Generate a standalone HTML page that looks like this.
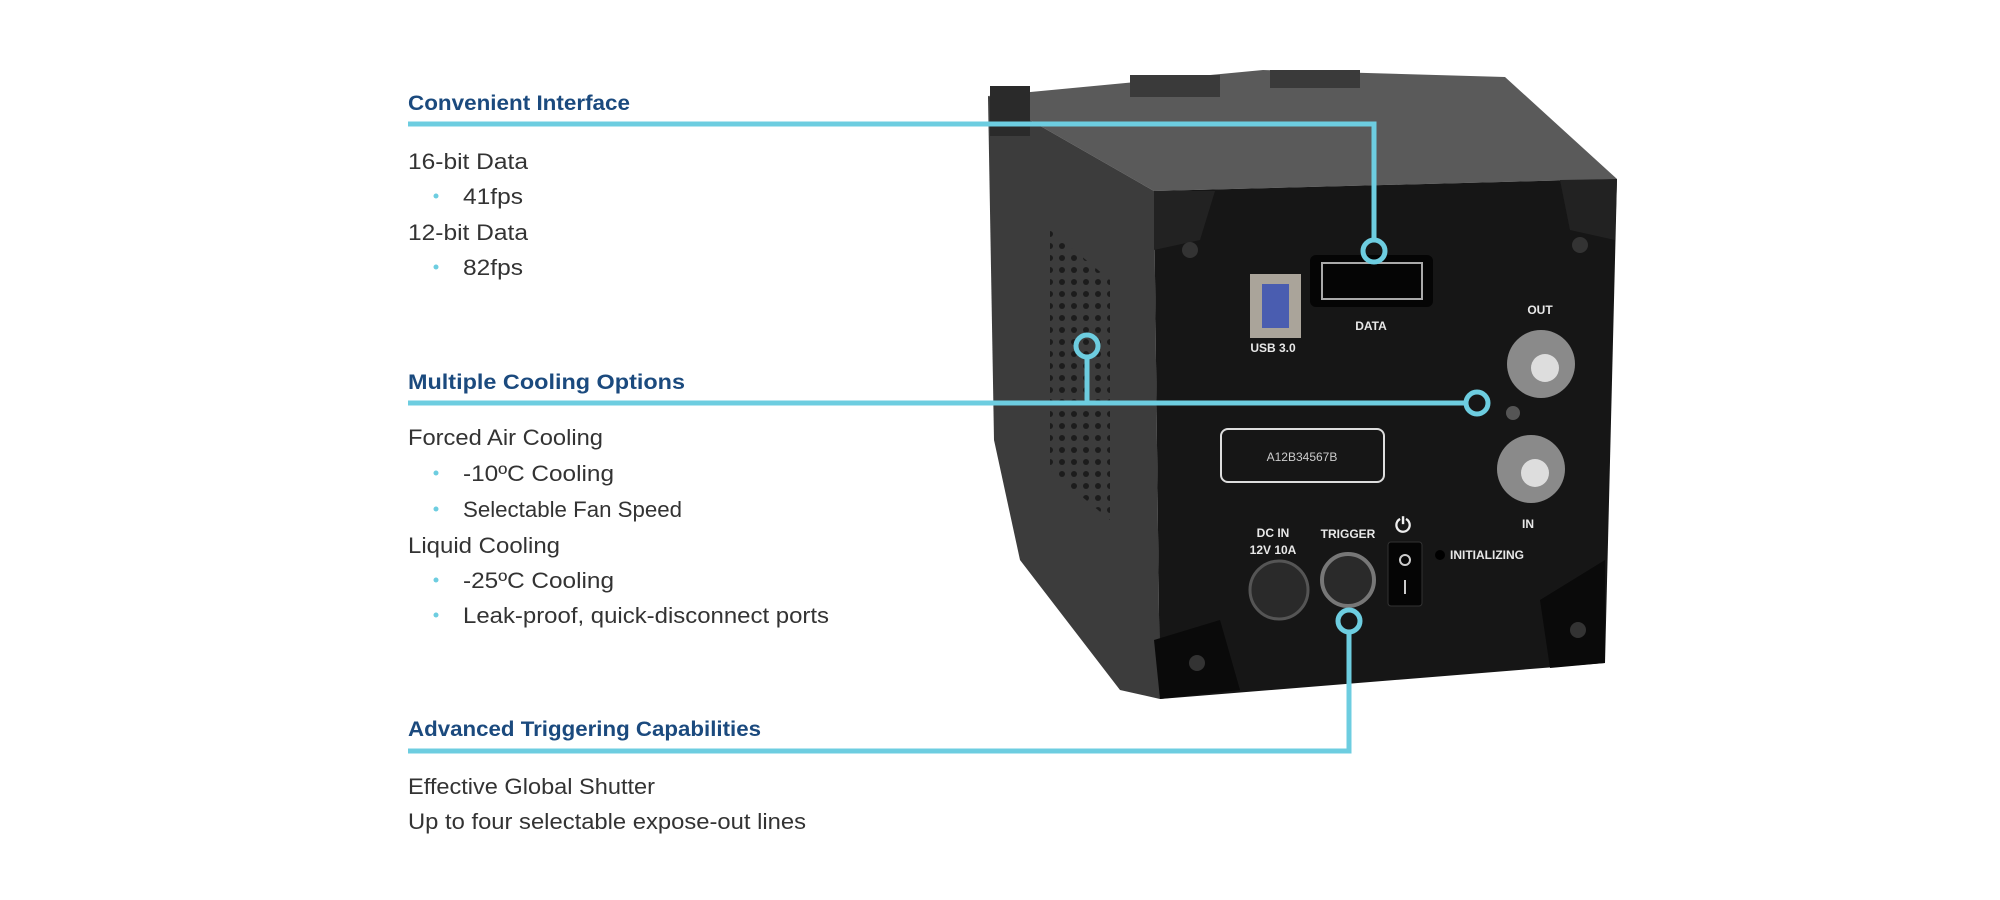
<!DOCTYPE html>
<html><head><meta charset="utf-8"><style>
html,body{margin:0;padding:0;background:#fff;}
svg{display:block}
text{font-family:"Liberation Sans",sans-serif;}
.t{font-weight:bold;font-size:21px;fill:#1b4a7e}
.b{font-size:22px;fill:#333}
.w{fill:#e8e8e8;font-weight:bold;font-size:12px}
</style></head><body>
<svg width="2000" height="900" viewBox="0 0 2000 900" xmlns="http://www.w3.org/2000/svg">
<defs>
<pattern id="vent" width="12" height="12" patternUnits="userSpaceOnUse"><circle cx="6" cy="6" r="3" fill="#1c1c1c"/></pattern>
</defs>
<!-- camera -->
<polygon points="988,96 1263,70 1505,77 1617,179 1154,191" fill="#5a5a5a"/>
<polygon points="988,96 1154,191 1160,699 1120,690 1020,560 994,440" fill="#3c3c3c"/>
<polygon points="1050,230 1110,280 1110,520 1050,470" fill="url(#vent)"/>
<polygon points="1154,191 1617,179 1605,663 1160,699" fill="#161616"/>
<rect x="990" y="86" width="40" height="50" fill="#2a2a2a"/>
<rect x="1130" y="75" width="90" height="22" fill="#3a3a3a"/>
<rect x="1270" y="70" width="90" height="18" fill="#3a3a3a"/>
<polygon points="1154,191 1215,191 1200,240 1154,250" fill="#222"/>
<polygon points="1560,180 1617,179 1615,240 1570,230" fill="#222"/>
<polygon points="1154,640 1220,620 1240,690 1160,699" fill="#0a0a0a"/>
<polygon points="1540,600 1605,560 1605,663 1550,668" fill="#0a0a0a"/>
<circle cx="1190" cy="250" r="8" fill="#333"/><circle cx="1580" cy="245" r="8" fill="#333"/>
<circle cx="1197" cy="663" r="8" fill="#333"/><circle cx="1578" cy="630" r="8" fill="#333"/>
<!-- ports -->
<rect x="1250" y="274" width="51" height="64" fill="#aaa49a"/>
<rect x="1262" y="284" width="27" height="44" fill="#4a5db0"/>
<rect x="1310" y="255" width="123" height="52" rx="6" fill="#050505"/>
<rect x="1322" y="263" width="100" height="36" fill="none" stroke="#aaa" stroke-width="2"/>
<text x="1273" y="352" class="w" text-anchor="middle">USB 3.0</text>
<text x="1371" y="330" class="w" text-anchor="middle">DATA</text>
<text x="1540" y="314" class="w" text-anchor="middle">OUT</text>
<text x="1528" y="528" class="w" text-anchor="middle">IN</text>
<circle cx="1541" cy="364" r="34" fill="#8a8a8a"/><circle cx="1545" cy="368" r="14" fill="#ddd"/>
<circle cx="1531" cy="469" r="34" fill="#8a8a8a"/><circle cx="1535" cy="473" r="14" fill="#ddd"/>
<circle cx="1513" cy="413" r="7" fill="#555"/>
<rect x="1221" y="429" width="163" height="53" rx="7" fill="none" stroke="#ddd" stroke-width="2"/>
<text x="1302" y="461" fill="#ccc" font-size="12" text-anchor="middle">A12B34567B</text>
<text x="1273" y="537" class="w" text-anchor="middle">DC IN</text>
<text x="1273" y="554" class="w" text-anchor="middle">12V 10A</text>
<text x="1348" y="538" class="w" text-anchor="middle">TRIGGER</text>
<text x="1450" y="559" class="w" font-size="8">INITIALIZING</text>
<circle cx="1279" cy="590" r="29" fill="#2a2a2a" stroke="#555" stroke-width="3"/>
<circle cx="1348" cy="580" r="26" fill="#2a2a2a" stroke="#777" stroke-width="4"/>
<rect x="1388" y="542" width="34" height="64" rx="3" fill="#050505" stroke="#333"/>
<circle cx="1405" cy="560" r="5" fill="none" stroke="#ccc" stroke-width="2"/>
<line x1="1405" y1="580" x2="1405" y2="594" stroke="#ccc" stroke-width="2"/>
<text x="1403" y="532" fill="#eee" font-size="20" font-weight="bold" text-anchor="middle">⏻</text>
<circle cx="1440" cy="555" r="5" fill="#000"/>
<!-- connectors -->
<g stroke="#6dcde0" stroke-width="5" fill="none">
<polyline points="408,124 1374,124 1374,240"/>
<circle cx="1374" cy="251" r="11" fill="none"/>
<line x1="408" y1="403" x2="1466" y2="403"/>
<circle cx="1477" cy="403" r="11"/>
<line x1="1087" y1="357" x2="1087" y2="403"/>
<circle cx="1087" cy="346" r="11"/>
<polyline points="408,751 1349,751 1349,632"/>
<circle cx="1349" cy="621" r="11"/>
</g>
<!-- text -->
<text class="t" x="408" y="110" textLength="222" lengthAdjust="spacingAndGlyphs">Convenient Interface</text>
<text class="b" x="408" y="169" textLength="120" lengthAdjust="spacingAndGlyphs">16-bit Data</text>
<text class="b" x="463" y="204" textLength="60" lengthAdjust="spacingAndGlyphs">41fps</text>
<text class="b" x="408" y="240" textLength="120" lengthAdjust="spacingAndGlyphs">12-bit Data</text>
<text class="b" x="463" y="275" textLength="60" lengthAdjust="spacingAndGlyphs">82fps</text>
<text class="t" x="408" y="389" textLength="277" lengthAdjust="spacingAndGlyphs">Multiple Cooling Options</text>
<text class="b" x="408" y="445" textLength="195" lengthAdjust="spacingAndGlyphs">Forced Air Cooling</text>
<text class="b" x="463" y="481" textLength="151" lengthAdjust="spacingAndGlyphs">-10ºC Cooling</text>
<text class="b" x="463" y="517" textLength="219" lengthAdjust="spacingAndGlyphs">Selectable Fan Speed</text>
<text class="b" x="408" y="553" textLength="152" lengthAdjust="spacingAndGlyphs">Liquid Cooling</text>
<text class="b" x="463" y="588" textLength="151" lengthAdjust="spacingAndGlyphs">-25ºC Cooling</text>
<text class="b" x="463" y="623" textLength="366" lengthAdjust="spacingAndGlyphs">Leak-proof, quick-disconnect ports</text>
<text class="t" x="408" y="736" textLength="353" lengthAdjust="spacingAndGlyphs">Advanced Triggering Capabilities</text>
<text class="b" x="408" y="794" textLength="247" lengthAdjust="spacingAndGlyphs">Effective Global Shutter</text>
<text class="b" x="408" y="829" textLength="398" lengthAdjust="spacingAndGlyphs">Up to four selectable expose-out lines</text>
<g fill="#6dcde0">
<circle cx="436" cy="196" r="2.5"/><circle cx="436" cy="267" r="2.5"/>
<circle cx="436" cy="473" r="2.5"/><circle cx="436" cy="509" r="2.5"/>
<circle cx="436" cy="580" r="2.5"/><circle cx="436" cy="615" r="2.5"/>
</g>
</svg>
</body></html>
